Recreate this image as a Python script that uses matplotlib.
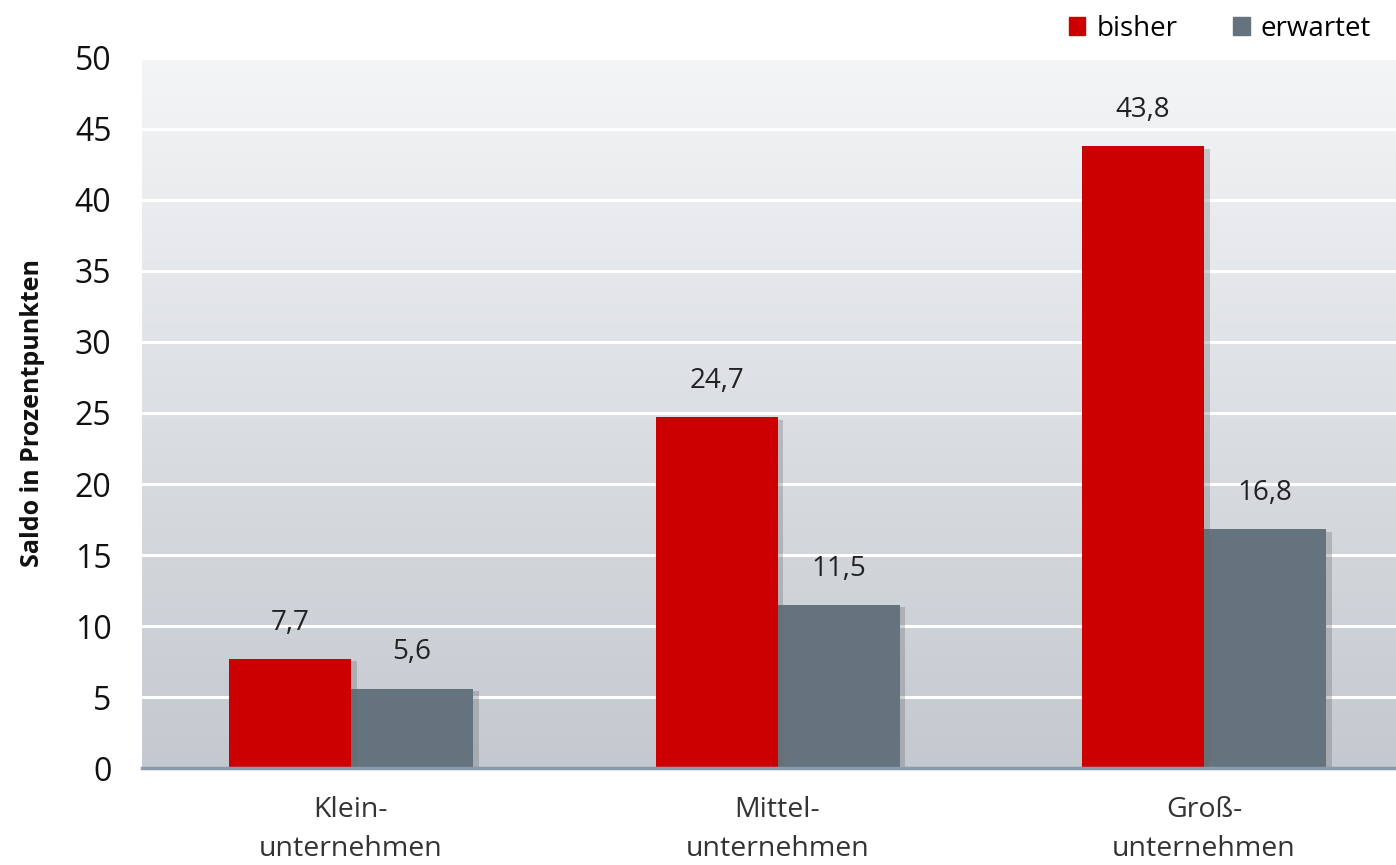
import numpy as np
import matplotlib
matplotlib.use("Agg")
import matplotlib.pyplot as plt
import matplotlib.patheffects as pe
from matplotlib.patches import Patch
from matplotlib.colors import LinearSegmentedColormap

plt.rcParams['font.family'] = ['Open Sans', 'DejaVu Sans']

# data
categories = ["Klein-\nunternehmen", "Mittel-\nunternehmen", "Groß-\nunternehmen"]
bisher = [7.7, 24.7, 43.8]
erwartet = [5.6, 11.5, 16.8]
series_names = ["bisher", "erwartet"]
yticks = [0, 5, 10, 15, 20, 25, 30, 35, 40, 45, 50]

red = "#cc0000"
grey = "#65737e"

fig = plt.figure(figsize=(13.96, 8.65), dpi=100)
ax = fig.add_axes([0.1017, 0.1121, 0.8983, 0.8209])

x = np.arange(len(categories))
w = 0.286

# gradient background
cmap = LinearSegmentedColormap.from_list("bg", ["#c3c9cf", "#f4f5f7"])
grad = np.linspace(0, 1, 256).reshape(-1, 1)
ax.imshow(grad, extent=(-0.49, 2.45, 0, 50), origin="lower", aspect="auto",
          cmap=cmap, zorder=0)

for yv in yticks[1:]:
    ax.axhline(yv, color="white", lw=2.2, zorder=1)

shadow = [pe.SimplePatchShadow(offset=(4, -2), shadow_rgbFace="#666666", alpha=0.3), pe.Normal()]
b1 = ax.bar(x - w / 2, bisher, w, color=red, zorder=3)
b2 = ax.bar(x + w / 2, erwartet, w, color=grey, zorder=2)
for r in list(b1) + list(b2):
    r.set_path_effects(shadow)

for xs, vals in ((x - w / 2, bisher), (x + w / 2, erwartet)):
    for xi, v in zip(xs, vals):
        ax.annotate(f"{v:.1f}".replace(".", ","), (xi, v), xytext=(0, 21),
                    textcoords="offset points", ha="center", va="baseline",
                    fontsize=20, color="#222222", zorder=5)

ax.axhline(0, color="#8a9bab", lw=2.5, zorder=4, clip_on=False)

ax.set_xlim(-0.49, 2.45)
ax.set_ylim(0, 50)
ax.set_yticks(yticks)
ax.set_xticks(x)
ax.set_xticklabels(categories, fontsize=20.5, color="#333333", linespacing=1.55)
ax.tick_params(axis="y", length=0, labelsize=23, pad=22, labelcolor="#111111")
ax.tick_params(axis="x", length=0, pad=20)
for s in ax.spines.values():
    s.set_visible(False)

ax.set_ylabel("Saldo in Prozentpunkten", fontsize=18, fontweight="bold",
              color="#111111")
ax.yaxis.set_label_coords(-0.077, 0.5)

handles = [Patch(color=red), Patch(color=grey)]
fig.legend(handles=handles, labels=series_names, loc="upper right",
           bbox_to_anchor=(1.0, 1.012), ncol=2, frameon=False, fontsize=20,
           handlelength=0.6, handleheight=0.6, handletextpad=0.4,
           columnspacing=2.0)

fig.savefig("out.png", dpi=100)
